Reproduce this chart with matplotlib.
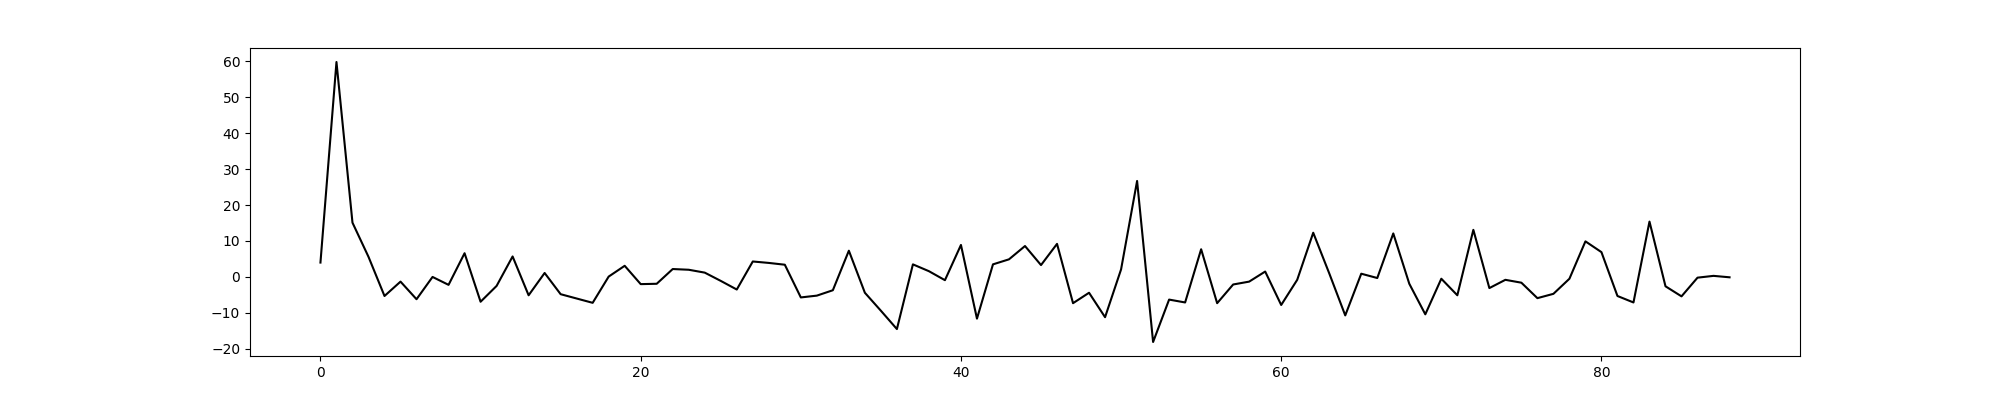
import matplotlib
matplotlib.use("Agg")
import matplotlib.pyplot as plt

# values, one per integer step
x_values = list(range(89))
y_values = [
    4.0, 59.8, 15.1, 5.6, -5.3, -1.3, -6.2, 0.0, -2.2, 6.6,
    -6.9, -2.5, 5.7, -5.1, 1.1, -4.8, -6.0, -7.2, 0.1, 3.1,
    -2.0, -1.9, 2.2, 2.0, 1.2, -1.1, -3.5, 4.3, 3.9, 3.4,
    -5.7, -5.2, -3.7, 7.3, -4.4, -9.4, -14.5, 3.5, 1.6, -0.9,
    8.9, -11.6, 3.5, 4.9, 8.6, 3.3, 9.2, -7.3, -4.4, -11.2,
    2.1, 26.7, -18.1, -6.3, -7.1, 7.7, -7.3, -2.1, -1.3, 1.5,
    -7.8, -0.8, 12.3, 1.0, -10.7, 0.9, -0.3, 12.1, -1.9, -10.4,
    -0.5, -5.1, 13.1, -3.1, -0.8, -1.6, -5.9, -4.7, -0.5, 9.9,
    6.9, -5.3, -7.1, 15.4, -2.6, -5.4, -0.2, 0.3, -0.1,
]

fig, ax = plt.subplots(figsize=(20, 4), dpi=100)
ax.plot(x_values, y_values, color='black')

plt.savefig("out.png")
plt.close()
